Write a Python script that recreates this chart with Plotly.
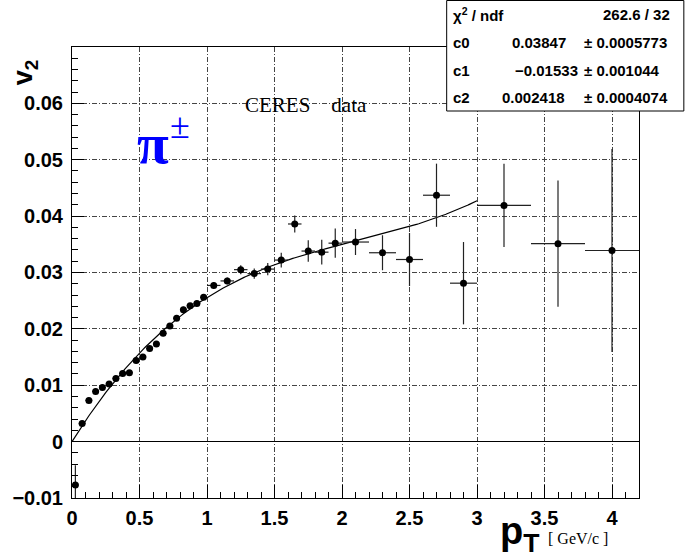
import numpy as np
import plotly.graph_objects as go

# ---------------- data ----------------
pt = [0.025, 0.075, 0.125, 0.175, 0.225, 0.275, 0.325, 0.375, 0.425, 0.475,
      0.525, 0.575, 0.625, 0.675, 0.725, 0.775, 0.825, 0.875, 0.925, 0.975,
      1.05, 1.15, 1.25, 1.35, 1.45, 1.55, 1.65, 1.75, 1.85, 1.95,
      2.1, 2.3, 2.5, 2.7, 2.9, 3.2, 3.6, 4.0]
v2 = [-0.0077, 0.0032, 0.0073, 0.0089, 0.0096, 0.0102, 0.0112, 0.0121, 0.0122, 0.0144,
      0.0150, 0.0165, 0.0173, 0.0192, 0.0205, 0.0219, 0.0234, 0.0241, 0.0245, 0.0256,
      0.0277, 0.0285, 0.0305, 0.0298, 0.0306, 0.0322, 0.0386, 0.0338, 0.0336, 0.0352,
      0.0354, 0.0335, 0.0323, 0.0437, 0.0281, 0.0419, 0.0351, 0.0339]
pt_err = [0.025] * 20 + [0.05] * 10 + [0.1] * 5 + [0.2] * 3
v2_err = [0.0035, 0.0005, 0.0005, 0.0005, 0.0005, 0.0005, 0.0005, 0.0005, 0.0005, 0.0005,
          0.0005, 0.0005, 0.0005, 0.0005, 0.0005, 0.0005, 0.0005, 0.0005, 0.0005, 0.0005,
          0.0006, 0.0006, 0.0008, 0.0009, 0.0011, 0.0013, 0.0015, 0.0019, 0.0022, 0.0026,
          0.0023, 0.0031, 0.0047, 0.0056, 0.0073, 0.0074, 0.0112, 0.018]

# fit parameters shown in the stats box: v2(pt) = c0*pt + c1*pt^2 + c2*pt^3
c0, c1, c2 = 0.03847, -0.01533, 0.002418
c0_err, c1_err, c2_err = 0.0005773, 0.001044, 0.0004074
chi2_text = "262.6 / 32"
fit_range = [0.0, 3.0]

x_range = [0, 4.2]
y_range = [-0.01, 0.06999]

# ---------------- figure ----------------
W, H = 685, 557
ML, MR, MT, MB = 70, 46, 47, 59
PW, PH = W - ML - MR, H - MT - MB


def px(xp):
    return (xp - ML) / PW


def py(yp):
    return (H - MB - yp) / PH


fit_x = np.linspace(fit_range[0], fit_range[1], 300)
fit_y = c0 * fit_x + c1 * fit_x ** 2 + c2 * fit_x ** 3

fig = go.Figure()
fig.add_trace(go.Scatter(x=fit_x, y=fit_y, mode="lines",
                         line=dict(color="black", width=1.2), hoverinfo="skip"))
fig.add_trace(go.Scatter(
    x=pt, y=v2, mode="markers",
    marker=dict(color="black", size=7),
    error_x=dict(type="data", array=pt_err, visible=True, width=0, thickness=1.2, color="#222"),
    error_y=dict(type="data", array=v2_err, visible=True, width=0, thickness=1.2, color="#222"),
))

grid_dash = "5px,2px,1px,2px"
tick_font = dict(family="Liberation Sans, Arial", size=20, color="black", weight="bold")

fig.update_xaxes(range=x_range, tick0=0, dtick=0.5, ticks="inside", ticklen=13, tickwidth=1,
                 tickcolor="black", showline=True, linecolor="black", linewidth=1, mirror=True,
                 showgrid=True, gridcolor="#444", gridwidth=1, griddash=grid_dash,
                 zeroline=False, tickfont=tick_font, ticklabelstandoff=2,
                 minor=dict(ticks="inside", ticklen=6, dtick=0.1, tickcolor="black", showgrid=False))
fig.update_yaxes(range=y_range, tick0=0, dtick=0.01, ticks="inside", ticklen=12, tickwidth=1,
                 tickcolor="black", showline=True, linecolor="black", linewidth=1, mirror=True,
                 showgrid=True, gridcolor="#444", gridwidth=1, griddash=grid_dash,
                 zeroline=True, zerolinecolor="black", zerolinewidth=1,
                 tickfont=tick_font, ticklabelstandoff=4,
                 minor=dict(ticks="inside", ticklen=6, dtick=0.002, tickcolor="black", showgrid=False))

shapes = [dict(type="rect", xref="paper", yref="paper",
               x0=px(446), x1=px(684), y0=py(111), y1=py(0.5),
               line=dict(color="black", width=1), fillcolor="white", layer="above")]

bf = dict(family="Liberation Sans, Arial", size=15, color="black", weight="bold")
ann = []


def add_text(text, xp, yp, xanchor, font, yanchor="middle", **kw):
    ann.append(dict(text=text, x=px(xp), y=py(yp), xref="paper", yref="paper",
                    xanchor=xanchor, yanchor=yanchor, showarrow=False, font=font, **kw))


rows_y = [15, 42, 70, 98]
add_text("χ<sup>2</sup> / ndf", 450, rows_y[0], "left", bf)
add_text(chi2_text, 672, rows_y[0], "right", bf)
for i, (name, val, err, vx) in enumerate([("c0", c0, c0_err, 568), ("c1", c1, c1_err, 580),
                                           ("c2", c2, c2_err, 567)]):
    yy = rows_y[i + 1]
    add_text(name, 450, yy, "left", bf)
    add_text(f"{val:.4g}".replace("-", "\u2212"), vx, yy, "right", bf)
    add_text(f"\u00b1 {err:.4g}", 582, yy, "left", bf)

# axis titles
add_text("<b>v<sub>2</sub></b>", 23, 72, "center",
         dict(family="Liberation Sans, Arial", size=27, color="black"), textangle=-90)
add_text("<b>p<sub>T</sub></b>", 498, 534, "left",
         dict(family="Liberation Sans, Arial", size=38, color="black"))
add_text("[ GeV/c ]", 546, 538, "left",
         dict(family="Liberation Serif, Times New Roman", size=16, color="black"))

# labels in the plot
add_text("CERES\u00a0\u00a0\u00a0\u00a0data", 242, 105, "left",
         dict(family="Liberation Serif, Times New Roman", size=21, color="black"))
add_text("π", 133, 143, "left",
         dict(family="Liberation Serif, Times New Roman", size=58, color="blue", weight="bold"))
add_text("±", 166, 126, "left",
         dict(family="Liberation Serif, Times New Roman", size=36, color="blue"))

fig.update_layout(width=W, height=H, margin=dict(l=ML, r=MR, t=MT, b=MB),
                  plot_bgcolor="white", paper_bgcolor="white", showlegend=False,
                  shapes=shapes, annotations=ann)

fig.write_html("out.html", config={"displayModeBar": False},
               post_script="document.body.style.margin='0px';document.body.style.padding='0px';")
